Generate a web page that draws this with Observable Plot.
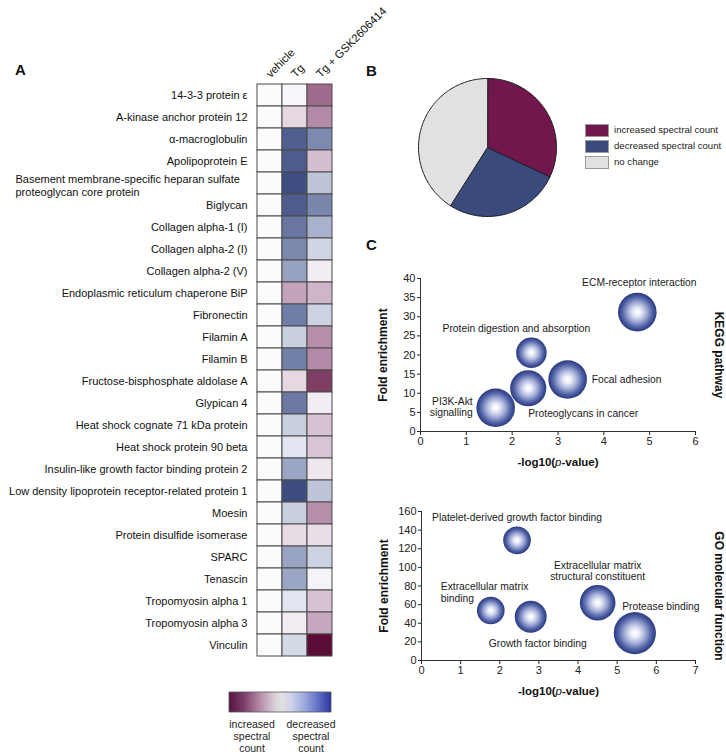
<!DOCTYPE html>
<html><head><meta charset="utf-8">
<script src="https://cdn.jsdelivr.net/npm/d3@7"></script>
<script src="https://cdn.jsdelivr.net/npm/@observablehq/plot@0.6"></script>
<style>
body{margin:0;background:#fff;font-family:"Liberation Sans",Arial,Helvetica,sans-serif;}
#root{position:relative;width:726px;height:754px;overflow:hidden;background:#fff;}
#root svg{max-width:none!important;}
.legrow{position:absolute;left:585px;font-size:9.6px;color:#222;white-space:nowrap;}
.legrow span.sw{position:absolute;left:0;top:0;width:22px;height:11px;border:1px solid #9a9a9a;}
.legrow span.tx{position:absolute;left:29px;top:-1px;line-height:13px;}
</style></head><body>
<svg width="0" height="0" style="position:absolute"><defs>
<radialGradient id="bubbleGrad" cx="50%" cy="50%" r="50%">
<stop offset="0%" stop-color="#ffffff"/><stop offset="18%" stop-color="#eef0f8"/>
<stop offset="48%" stop-color="#a6b1da"/><stop offset="78%" stop-color="#5262a6"/>
<stop offset="100%" stop-color="#293980"/></radialGradient>
<linearGradient id="legendGrad" x1="0" x2="1" y1="0" y2="0">
<stop offset="0%" stop-color="#571242"/><stop offset="15%" stop-color="#7d3f6c"/>
<stop offset="30%" stop-color="#b58aa8"/><stop offset="45%" stop-color="#d8d0d6"/>
<stop offset="52%" stop-color="#e1e1e1"/><stop offset="62%" stop-color="#c9d0ea"/>
<stop offset="75%" stop-color="#98a6dc"/><stop offset="88%" stop-color="#5d6cc4"/>
<stop offset="100%" stop-color="#2b369f"/></linearGradient>
</defs></svg>
<div id="root"></div>
<script>
// ---------------- DATA ----------------
const proteins = [
  "14-3-3 protein ε",
  "A-kinase anchor protein 12",
  "α-macroglobulin",
  "Apolipoprotein E",
  "Basement membrane-specific heparan sulfate proteoglycan core protein",
  "Biglycan",
  "Collagen alpha-1 (I)",
  "Collagen alpha-2 (I)",
  "Collagen alpha-2 (V)",
  "Endoplasmic reticulum chaperone BiP",
  "Fibronectin",
  "Filamin A",
  "Filamin B",
  "Fructose-bisphosphate aldolase A",
  "Glypican 4",
  "Heat shock cognate 71 kDa protein",
  "Heat shock protein 90 beta",
  "Insulin-like growth factor binding protein 2",
  "Low density lipoprotein receptor-related protein 1",
  "Moesin",
  "Protein disulfide isomerase",
  "SPARC",
  "Tenascin",
  "Tropomyosin alpha 1",
  "Tropomyosin alpha 3",
  "Vinculin"
];
const conditions = ["vehicle", "Tg", "Tg + GSK2606414"];
// relative change: negative = increased spectral count, positive = decreased spectral count
const vehicleValues = [0,0,0,0,0,0,0,0,0,0,0,0,0,0,0,0,0,0,0,0,0,0,0,0,0,0];
const tgValues = [-0.02,-0.155,0.86,0.88,0.98,0.875,0.71,0.59,0.44,-0.39,0.66,0.22,0.64,-0.155,0.69,0.22,0.11,0.42,0.99,0.22,-0.14,0.43,0.42,0.11,-0.065,0.165];
const gskValues = [-0.62,-0.5,0.58,-0.27,0.27,0.6,0.36,0.19,-0.07,-0.31,0.2,-0.48,-0.5,-0.8,-0.06,-0.25,-0.24,-0.085,0.265,-0.48,-0.13,0.2,-0.035,-0.25,-0.365,-1.0];
const colorbarLabels = ["increased\nspectral\ncount", "decreased\nspectral\ncount"];

const pieCategories = ["increased spectral count", "decreased spectral count", "no change"];
const pieValues = [32, 27, 41];

const keggPathways = ["ECM-receptor interaction","Protein digestion and absorption","Focal adhesion","Proteoglycans in cancer","PI3K-Akt signalling"];
const keggLogP = [4.73, 2.42, 3.21, 2.35, 1.64];
const keggFold = [31.2, 20.6, 13.6, 11.3, 6.2];
const keggGenes = [8, 5, 8, 7, 8];

const goTerms = ["Platelet-derived growth factor binding","Extracellular matrix structural constituent","Extracellular matrix binding","Growth factor binding","Protease binding"];
const goLogP = [2.44, 4.5, 1.77, 2.79, 5.45];
const goFold = [129, 62, 53.7, 47, 29.4];
const goGenes = [3, 5, 3, 4, 7];

// ---------------- STYLE / LAYOUT ----------------
const FONT = '"Liberation Sans", Arial, Helvetica, sans-serif';
const heatRange = ["#5c0a36", "#b38aa7", "#fbfbfe", "#8896b8", "#3b4a80"];
const pieColors = ["#72174e", "#3a4a7c", "#e1e1e3"];
const keggLabelLayout = {
  "ECM-receptor interaction": {text: "ECM-receptor interaction", anchor: "middle", dx: 2, dy: -30},
  "Protein digestion and absorption": {text: "Protein digestion and absorption", anchor: "middle", dx: -15, dy: -25},
  "Focal adhesion": {text: "Focal adhesion", anchor: "middle", dx: 59, dy: 0},
  "Proteoglycans in cancer": {text: "Proteoglycans in cancer", anchor: "middle", dx: 55, dy: 25},
  "PI3K-Akt signalling": {text: "PI3K-Akt\nsignalling", anchor: "end", dx: -23, dy: -1}
};
const goLabelLayout = {
  "Platelet-derived growth factor binding": {text: "Platelet-derived growth factor binding", anchor: "middle", dx: 0, dy: -23},
  "Extracellular matrix structural constituent": {text: "Extracellular matrix\nstructural constituent", anchor: "middle", dx: 0, dy: -32},
  "Extracellular matrix binding": {text: "Extracellular matrix\nbinding", anchor: "start", dx: -50, dy: -18},
  "Growth factor binding": {text: "Growth factor binding", anchor: "middle", dx: 7, dy: 26},
  "Protease binding": {text: "Protease binding", anchor: "middle", dx: 26, dy: -27}
};

const root = document.getElementById("root");
function place(el, left, top) {
  const d = document.createElement("div");
  d.style.position = "absolute"; d.style.left = left + "px"; d.style.top = top + "px";
  d.appendChild(el); root.appendChild(d); return d;
}

// ---------------- PANEL A: heatmap ----------------
const heatCells = proteins.flatMap((p, i) => [
  {protein: p, condition: conditions[0], value: vehicleValues[i]},
  {protein: p, condition: conditions[1], value: tgValues[i]},
  {protein: p, condition: conditions[2], value: gskValues[i]}
]);
const basement = proteins[4];
const heat = Plot.plot({
  width: 390, height: 672,
  marginLeft: 257, marginRight: 58, marginTop: 78, marginBottom: 11,
  style: {background: "transparent", fontFamily: FONT, fontSize: "11px", color: "#111", overflow: "visible"},
  x: {domain: conditions, padding: 0, axis: null},
  y: {domain: proteins, padding: 0, tickSize: 0, tickPadding: 10, label: null,
      tickFormat: d => d === basement ? "" : d},
  color: {type: "linear", domain: [-1, -0.5, 0, 0.5, 1], range: heatRange},
  marks: [
    Plot.cell(heatCells, {x: "condition", y: "protein", fill: "value", stroke: "#4a4a4a", strokeWidth: 1, inset: 0}),
    Plot.text([{protein: basement, label: "Basement membrane-specific heparan sulfate\nproteoglycan core protein"}],
      {y: "protein", text: "label", frameAnchor: "left", textAnchor: "start", dx: -242, dy: 2, lineHeight: 1.18, fontSize: 11, fill: "#111"}),
    Plot.text(conditions, {x: d => d, text: d => d, frameAnchor: "top", rotate: -45, textAnchor: "start", dx: -5, dy: -6, fontSize: 11.3, fill: "#111"})
  ]
});
place(heat, 0, 0);

// ---------------- PANEL B: pie ----------------
const pieArcs = d3.pie().sort(null)(pieValues);
const pieFeatures = pieArcs.map((a, i) => {
  const steps = Math.max(2, Math.ceil((a.endAngle - a.startAngle) / 0.02));
  const ring = [[0, 0]];
  for (let k = 0; k <= steps; k++) {
    const t = a.startAngle + (a.endAngle - a.startAngle) * k / steps;
    ring.push([Math.sin(t), Math.cos(t)]);
  }
  ring.push([0, 0]);
  return {type: "Feature", properties: {category: pieCategories[i]}, geometry: {type: "Polygon", coordinates: [ring]}};
});
const pieProjection = d3.geoIdentity().reflectY(true)
  .fitExtent([[1, 1], [139, 139]], {type: "FeatureCollection", features: pieFeatures});
const pie = Plot.plot({
  width: 140, height: 140, margin: 0,
  style: {background: "transparent", overflow: "visible"},
  projection: pieProjection,
  color: {domain: pieCategories, range: pieColors},
  marks: [Plot.geo(pieFeatures, {fill: d => d.properties.category, stroke: "#1a1a1a", strokeWidth: 1})]
});
place(pie, 417, 77);

// pie legend
pieCategories.forEach((c, i) => {
  const row = document.createElement("div");
  row.className = "legrow";
  row.style.top = (124 + i * 16) + "px";
  const sw = document.createElement("span"); sw.className = "sw"; sw.style.background = pieColors[i];
  const tx = document.createElement("span"); tx.className = "tx"; tx.textContent = c;
  row.appendChild(sw); row.appendChild(tx); root.appendChild(row);
});

// ---------------- PANEL C: bubble charts ----------------
function bubbleChart({names, logP, fold, genes, layout, xMax, yMax, yTicks, rMax, rRange, sideLabel, marginLeft, marginTop, frameH, sideDy}) {
  const data = names.map((n, i) => ({name: n, logP: logP[i], fold: fold[i], genes: genes[i]}));
  const labelMarks = data.map(d => {
    const L = layout[d.name];
    return Plot.text([d], {x: "logP", y: "fold", text: () => L.text, textAnchor: L.anchor, dx: L.dx, dy: L.dy,
      lineHeight: 1.15, fontSize: 10.3, fill: "#1a1a1a"});
  });
  const frameRight = 695 - 370;
  const chart = Plot.plot({
    width: 356, height: marginTop + frameH + 44,
    marginLeft, marginRight: 356 - frameRight, marginTop, marginBottom: 44,
    style: {background: "transparent", fontFamily: FONT, fontSize: "11px", color: "#222", overflow: "visible"},
    x: {domain: [0, xMax], ticks: xMax, tickSize: 4, tickPadding: 2, label: null},
    y: {domain: [0, yMax], ticks: yTicks, tickSize: 3, tickPadding: 2, label: null},
    r: {type: "sqrt", domain: [0, rMax], range: [0, rRange]},
    marks: [
      Plot.ruleX([0], {stroke: "#333"}),
      Plot.ruleY([0], {stroke: "#333"}),
      Plot.dot(data, {x: "logP", y: "fold", r: "genes", fill: "url(#bubbleGrad)", stroke: "none"}),
      ...labelMarks,
      Plot.text(["Fold enrichment"], {frameAnchor: "left", textAnchor: "middle", lineAnchor: "middle", rotate: -90, dx: -37, fontWeight: "bold", fontSize: 12, fill: "#111"}),
      Plot.text([sideLabel], {frameAnchor: "right", textAnchor: "middle", lineAnchor: "middle", rotate: 90, dx: 23.5, dy: sideDy, fontWeight: "bold", fontSize: 12, fill: "#111"}),
      Plot.text(["-log10(p-value)"], {frameAnchor: "bottom", textAnchor: "middle", dy: 31, fontWeight: "bold", fontSize: 11.5, fill: "#111", lineAnchor: "middle"})
    ]
  });
  chart.querySelectorAll("text").forEach(t => {
    if (t.textContent === "-log10(p-value)") t.innerHTML = '-log10(<tspan font-style="italic" font-weight="normal">p</tspan>-value)';
  });
  return chart;
}

const kegg = bubbleChart({names: keggPathways, logP: keggLogP, fold: keggFold, genes: keggGenes, layout: keggLabelLayout,
  xMax: 6, yMax: 40, yTicks: 8, rMax: 8, rRange: 19.3, sideLabel: "KEGG pathway", marginLeft: 50, marginTop: 18, frameH: 153, sideDy: 0});
place(kegg, 370, 260);

const go = bubbleChart({names: goTerms, logP: goLogP, fold: goFold, genes: goGenes, layout: goLabelLayout,
  xMax: 7, yMax: 160, yTicks: 8, rMax: 7, rRange: 21.1, sideLabel: "GO molecular function", marginLeft: 51, marginTop: 21, frameH: 149, sideDy: 10});
place(go, 370, 490);

// ---------------- Overlay: panel letters and colorbar ----------------
const ns = "http://www.w3.org/2000/svg";
const ov = document.createElementNS(ns, "svg");
ov.setAttribute("width", 726); ov.setAttribute("height", 754);
ov.style.position = "absolute"; ov.style.left = "0"; ov.style.top = "0"; ov.style.pointerEvents = "none";
function svgText(txt, x, y, attrs) {
  const t = document.createElementNS(ns, "text");
  t.setAttribute("x", x); t.setAttribute("y", y); t.textContent = txt;
  t.setAttribute("font-family", FONT);
  for (const k in attrs) t.setAttribute(k, attrs[k]);
  ov.appendChild(t);
}
svgText("A", 15, 75, {"font-size": 15, "font-weight": "bold", fill: "#111"});
svgText("B", 366, 76, {"font-size": 15, "font-weight": "bold", fill: "#111"});
svgText("C", 366, 250, {"font-size": 15, "font-weight": "bold", fill: "#111"});
const bar = document.createElementNS(ns, "rect");
bar.setAttribute("x", 229); bar.setAttribute("y", 692); bar.setAttribute("width", 102); bar.setAttribute("height", 20);
bar.setAttribute("fill", "url(#legendGrad)"); bar.setAttribute("stroke", "#555"); bar.setAttribute("stroke-width", 0.8);
ov.appendChild(bar);
colorbarLabels.forEach((lab, i) => {
  const cx = i === 0 ? 252 : 311;
  lab.split("\n").forEach((line, j) => svgText(line, cx, 728 + j * 11.8, {"font-size": 10.5, "text-anchor": "middle", fill: "#222"}));
});
root.appendChild(ov);
</script>
</body></html>
